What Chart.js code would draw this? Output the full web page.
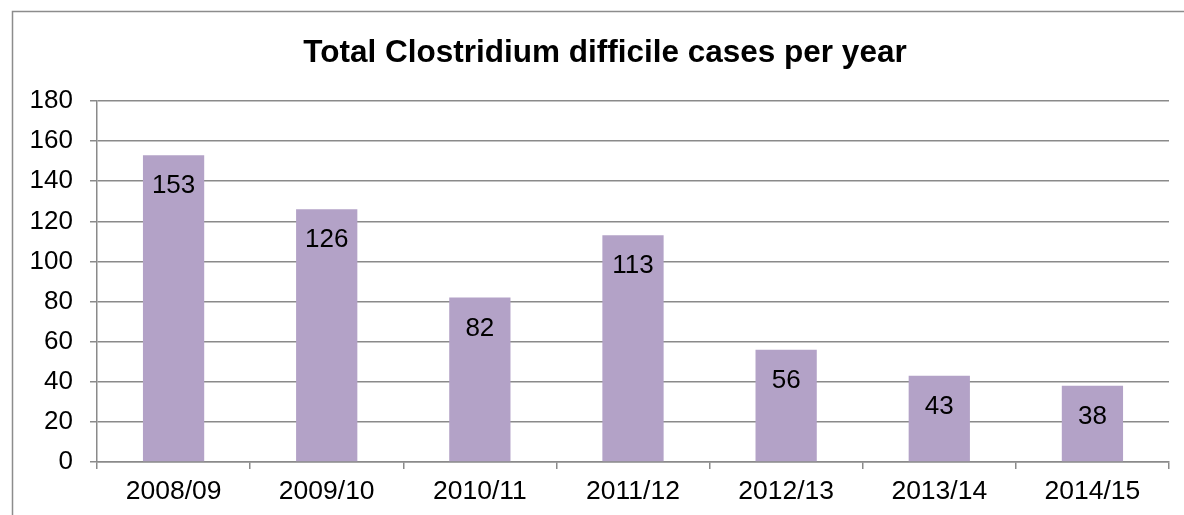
<!DOCTYPE html>
<html>
<head>
<meta charset="utf-8">
<title>Total Clostridium difficile cases per year</title>
<script src="https://cdn.jsdelivr.net/npm/chart.js@4"></script>
<style>
  html, body { margin: 0; padding: 0; background: #ffffff; }
  #wrap { width: 1184px; height: 515px; position: relative; }
  canvas { display: block; }
</style>
</head>
<body>
<div id="wrap"><canvas id="chart" width="1184" height="515"></canvas></div>
<script>
// Financial years and the number of cases recorded in each
const years = ['2008/09', '2009/10', '2010/11', '2011/12', '2012/13', '2013/14', '2014/15'];
const cases = [153, 126, 82, 113, 56, 43, 38];
const chartTitle = 'Total Clostridium difficile cases per year';
const yMin = 0;
const yMax = 180;
const yStep = 20;

const FONT = "'Liberation Sans', Arial, sans-serif";
const GRID = '#8a8a8a';
const BAR = '#b3a2c7';

// Outer frame and heading
const framePlugin = {
  id: 'frame',
  beforeDraw(chart) {
    const ctx = chart.ctx;
    ctx.save();
    ctx.fillStyle = '#ffffff';
    ctx.fillRect(0, 0, chart.width, chart.height);
    ctx.strokeStyle = '#8c8c8c';
    ctx.lineWidth = 1.5;
    ctx.beginPath();
    ctx.moveTo(12.5, chart.height + 2);
    ctx.lineTo(12.5, 11.5);
    ctx.lineTo(chart.width + 2, 11.5);
    ctx.stroke();
    ctx.fillStyle = '#000000';
    ctx.font = 'bold 31.5px ' + FONT;
    ctx.textAlign = 'center';
    ctx.textBaseline = 'alphabetic';
    ctx.fillText(chartTitle, 605, 62);
    ctx.restore();
  }
};

// Value written inside the top of each bar
const valueLabels = {
  id: 'valueLabels',
  afterDatasetsDraw(chart) {
    const ctx = chart.ctx;
    const meta = chart.getDatasetMeta(0);
    ctx.save();
    ctx.fillStyle = '#000000';
    ctx.font = '26px ' + FONT;
    ctx.textAlign = 'center';
    ctx.textBaseline = 'alphabetic';
    meta.data.forEach((bar, i) => {
      ctx.fillText(String(chart.data.datasets[0].data[i]), bar.x, bar.y + 38);
    });
    ctx.restore();
  }
};

new Chart(document.getElementById('chart'), {
  type: 'bar',
  data: {
    labels: years,
    datasets: [{
      data: cases,
      backgroundColor: BAR,
      borderWidth: 0,
      barPercentage: 0.4,
      categoryPercentage: 1.0
    }]
  },
  options: {
    responsive: false,
    animation: false,
    devicePixelRatio: 1,
    layout: { padding: { top: 101, right: 15, left: 0, bottom: 0 } },
    plugins: {
      legend: { display: false },
      title: { display: false },
      tooltip: { enabled: false }
    },
    scales: {
      x: {
        offset: true,
        grid: {
          offset: true,
          drawOnChartArea: false,
          drawTicks: true,
          tickLength: 7,
          color: GRID,
          lineWidth: 1.5
        },
        border: { display: true, color: GRID, width: 1.5 },
        ticks: {
          color: '#000000',
          font: { family: FONT, size: 26.5 },
          padding: 7,
          maxRotation: 0,
          autoSkip: false
        },
        afterFit(scale) { scale.height = 53; }
      },
      y: {
        min: yMin,
        max: yMax,
        grid: {
          color: GRID,
          lineWidth: 1.5,
          drawTicks: true,
          tickLength: 7
        },
        border: { display: true, color: GRID, width: 1.5 },
        ticks: {
          stepSize: yStep,
          color: '#000000',
          font: { family: FONT, size: 26 },
          padding: 17
        },
        afterFit(scale) { scale.width = 97; }
      }
    }
  },
  plugins: [framePlugin, valueLabels]
});
</script>
</body>
</html>
